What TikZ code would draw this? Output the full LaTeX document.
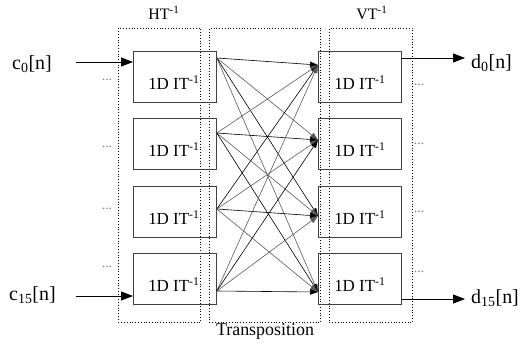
\documentclass[tikz,border=0pt]{standalone}
\usepackage{fontspec}
\setmainfont{Liberation Serif}
\usetikzlibrary{arrows.meta,calc}
\begin{document}
\begin{tikzpicture}[x=1bp,y=-1bp,
  itbox/.style={draw=black!75,line width=0.8bp,minimum width=83bp,minimum height=51bp,inner sep=0pt,anchor=north west},
  itlabel/.style={font=\fontsize{17}{17}\selectfont,inner sep=0pt},
  group/.style={draw=black,dotted,line width=0.8bp,inner sep=0pt,anchor=north west},
  sig/.style={font=\fontsize{20}{20}\selectfont,inner sep=0pt},
  ttl/.style={font=\fontsize{16}{16}\selectfont,inner sep=0pt},
  dots/.style={font=\fontsize{14}{14}\selectfont,text=black!50,inner sep=0pt},
  io/.style={line width=0.8bp,-{Triangle[length=12bp,width=9bp]}},
  tr/.style={line width=0.6bp,-{Triangle[length=8bp,width=5.5bp]}},
]
\useasboundingbox (0,0) rectangle (530,345);
% groups
\node[group,minimum width=82bp,minimum height=294bp] (HT) at (118,28) {};
\node[group,minimum width=111bp,minimum height=294bp] (TR) at (209,28) {};
\node[group,minimum width=83bp,minimum height=294bp] (VT) at (329,28) {};
\node[ttl] (HTl) at (164,13) {HT\textsuperscript{-1}};
\node[ttl] (VTl) at (372,13) {VT\textsuperscript{-1}};
\node[ttl,font=\fontsize{18}{18}\selectfont] (TRl) at (265,331) {Transposition};
% boxes
\foreach \i/\y in {1/51,2/118,3/186,4/253}{
  \node[itbox] (L\i) at (133,\y) {};
  \node[itbox] (R\i) at (318,\y) {};
  \node[itlabel] (LT\i) at ($(L\i.center)+(-1,6)$) {1D IT\textsuperscript{-1}};
  \node[itlabel] (RT\i) at ($(R\i.center)+(0,6)$) {1D IT\textsuperscript{-1}};
}
% transposition connections
\foreach \i/\oi in {1/7,2/15,3/23,4/38}{
  \foreach \j/\oj in {1/14,2/22,3/30,4/39}{
    \pgfmathtruncatemacro{\parity}{mod(\i+\j,2)}
    \ifnum\parity=0
      \draw[tr,black] ($(L\i.north east)+(0,\oi)$) -- ($(R\j.north west)+(0,\oj)$);
    \else
      \draw[tr,black!65] ($(L\i.north east)+(0,\oi)$) -- ($(R\j.north west)+(0,\oj)$);
    \fi
  }
}
% inputs / outputs
\node[sig,anchor=west] (c0) at (12,64) {c\textsubscript{0}[n]};
\node[sig,anchor=west] (c15) at (9,295) {c\textsubscript{15}[n]};
\node[sig,anchor=west] (d0) at (471,63) {d\textsubscript{0}[n]};
\node[sig,anchor=west] (d15) at (471,298) {d\textsubscript{15}[n]};
\coordinate (ci0) at (76,62);
\coordinate (ci15) at (76,296);
\coordinate (do0) at (465,58);
\coordinate (do15) at (465,299);
\draw[io] (ci0) -- ($(L1.north west)+(0,11)$);
\draw[io] (ci15) -- ($(L4.north west)+(0,43)$);
\draw[io] ($(R1.north east)+(0,7)$) -- (do0);
\draw[io] ($(R4.north east)+(0,46)$) -- (do15);
% dots
\foreach \n/\x/\y in {a/107/80,b/107/147,c/107/209,d/107/267,e/419/85,f/419/144,g/419/212,h/419/272}{
  \node[dots] (dt\n) at (\x,\y) {...};
}
\end{tikzpicture}
\end{document}
